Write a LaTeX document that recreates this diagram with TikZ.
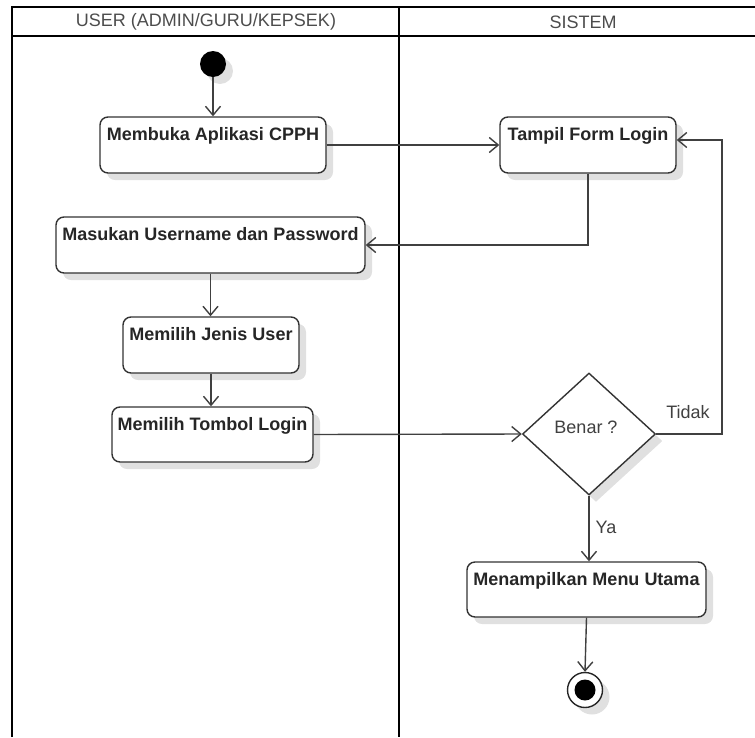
\documentclass[tikz,border=0pt]{standalone}
\usepackage{fontspec}
\setmainfont{Liberation Sans}
\usetikzlibrary{arrows.meta,shapes.geometric,shadows}
\begin{document}
\begin{tikzpicture}[x=1pt,y=-1pt,
  lane/.style={line width=2.2pt,black},
  shad/.style={drop shadow={shadow xshift=7pt,shadow yshift=-7pt,fill=black!12,opacity=1}},
  act/.style={draw=black!80,line width=1.4pt,rounded corners=8pt,fill=white,shad,inner sep=0pt},
  lbl/.style={font=\fontsize{18}{21}\selectfont\bfseries,text=black!85,inner sep=0pt,anchor=base},
  hdr/.style={font=\fontsize{18}{21}\selectfont,text=black!70,inner sep=0pt},
  txt/.style={font=\fontsize{18}{21}\selectfont,text=black!75,inner sep=0pt},
  arr/.style={draw=black!75,line width=1.4pt,-{Straight Barb[length=9pt,width=15pt,line width=1.4pt]}}]
\useasboundingbox (0,0) rectangle (755,737);
% swimlanes
\draw[lane] (12,737) -- (12,7) -- (755,7);
\draw[lane] (12,36) -- (755,36);
\draw[lane] (399,7) -- (399,737);
\node[hdr] (h1) at (206,22) {USER (ADMIN/GURU/KEPSEK)};
\node[hdr] (h2) at (583,22) {SISTEM};
% start
\node[circle,fill=black,minimum size=26pt,inner sep=0pt,shad] (st) at (213,64) {};
% activities
\node[act,minimum width=226pt,minimum height=56pt,label={[lbl,yshift=-24pt]north:Membuka Aplikasi CPPH}] (b1) at (213,145) {};
\node[act,minimum width=176pt,minimum height=56pt,label={[lbl,yshift=-24pt]north:Tampil Form Login}] (b2) at (588,145) {};
\node[act,minimum width=309pt,minimum height=56pt,label={[lbl,yshift=-24pt]north:Masukan Username dan Password}] (b3) at (210.5,245) {};
\node[act,minimum width=176pt,minimum height=56pt,label={[lbl,yshift=-24pt]north:Memilih Jenis User}] (b4) at (211,345) {};
\node[act,minimum width=201pt,minimum height=55pt,label={[lbl,yshift=-24pt]north:Memilih Tombol Login}] (b5) at (212.5,434.5) {};
\node[diamond,draw=black!80,line width=1.4pt,fill=white,minimum width=133pt,minimum height=122pt,inner sep=0pt,shad] (dec) at (589,434) {};
\node[txt] (q) at (586,427) {Benar ?};
\node[act,minimum width=239pt,minimum height=55pt,label={[lbl,yshift=-24pt]north:Menampilkan Menu Utama}] (b6) at (586.5,589.5) {};
% end
\node[circle,draw=black!85,line width=1.4pt,fill=white,minimum size=35pt,inner sep=0pt,shad] (en) at (585,690) {};
\node[circle,fill=black,minimum size=21pt,inner sep=0pt] (enin) at (en) {};
% connectors
\draw[arr] (st) -- (b1.north);
\draw[arr] (b1.east) -- (b2.west);
\draw[arr] (b2.south) |- (b3.east);
\draw[arr] (b3.south) -- (b3.south |- b4.north);
\draw[arr] (b4.south) -- (b4.south |- b5.north);
\draw[arr] (b5.east) -- (dec.west);
\coordinate (cR) at (722,140);
\draw[arr] (dec.east) -| (cR) -- (cR -| b2.east);
\draw[arr] (dec.south) -- (dec.south |- b6.north);
\draw[arr] (b6.south) -- (en.north);
\node[txt] (tidak) at (688,412) {Tidak};
\node[txt] (ya) at (606,527) {Ya};
\end{tikzpicture}
\end{document}
